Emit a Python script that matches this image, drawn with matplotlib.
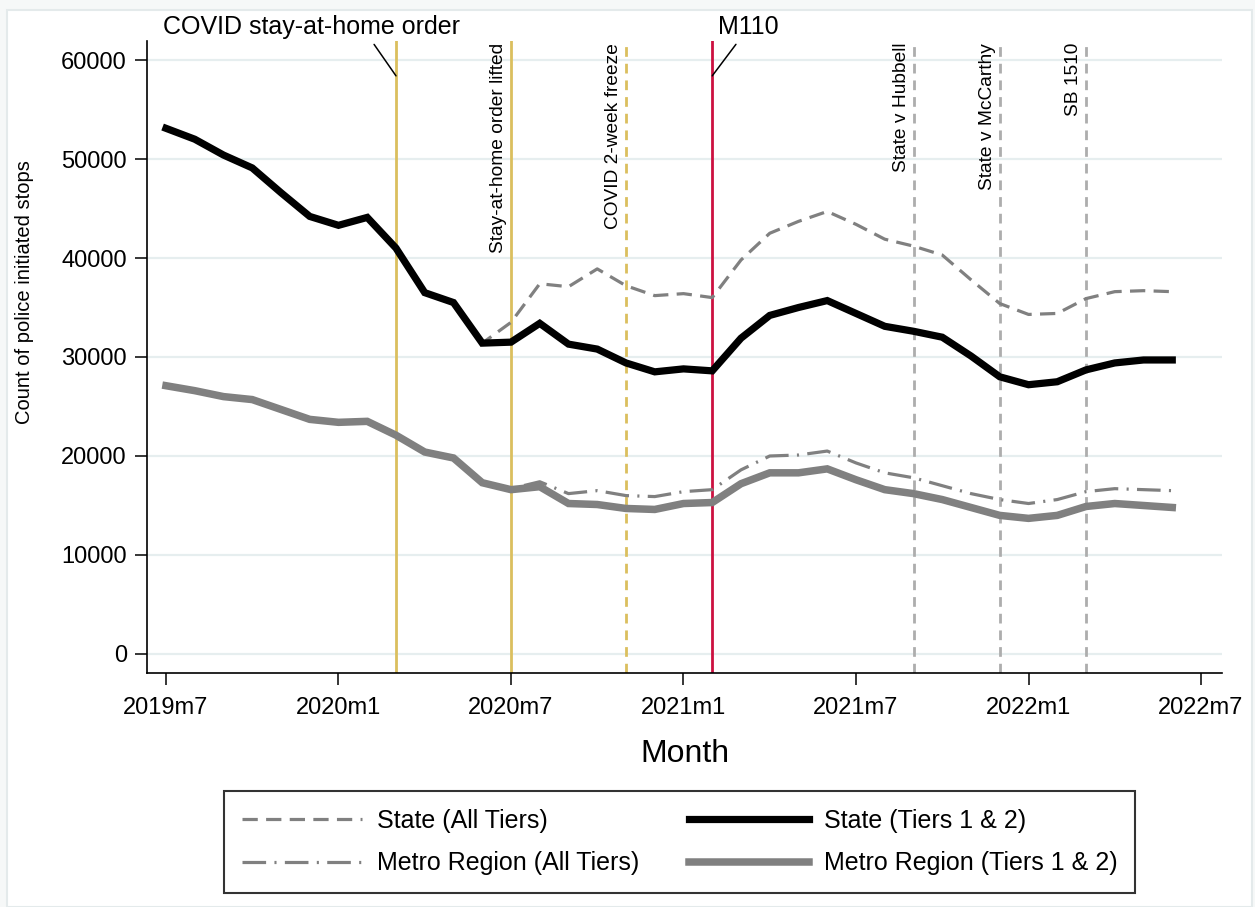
import numpy as np
import matplotlib.pyplot as plt
import matplotlib.patches as mpatches
import matplotlib.transforms as mtransforms

plt.rcParams["font.family"] = ["Liberation Sans", "DejaVu Sans"]
plt.rcParams["lines.scale_dashes"] = False

# monthly counts of police initiated stops, 2019m7 .. 2022m6
state_all = [53100, 52000, 50400, 49100, 46600, 44200, 43300, 44100, 41000, 36500,
             35500, 31400, 33500, 37400, 37100, 38900, 37200, 36200, 36400, 36000,
             39800, 42500, 43700, 44700, 43400, 41900, 41200, 40300, 37800, 35400,
             34300, 34400, 35900, 36600, 36700, 36600]
state_t12 = [53100, 52000, 50400, 49100, 46600, 44200, 43300, 44100, 41000, 36500,
             35500, 31400, 31500, 33400, 31300, 30800, 29400, 28500, 28800, 28600,
             31900, 34200, 35000, 35700, 34400, 33100, 32600, 32000, 30100, 28000,
             27200, 27500, 28700, 29400, 29700, 29700]
metro_all = [27100, 26600, 26000, 25700, 24700, 23700, 23400, 23500, 22100, 20400,
             19800, 17300, 16700, 17400, 16200, 16500, 16000, 15900, 16400, 16600,
             18600, 20000, 20100, 20500, 19300, 18300, 17800, 17000, 16200, 15600,
             15200, 15600, 16400, 16700, 16600, 16500]
metro_t12 = [27100, 26600, 26000, 25700, 24700, 23700, 23400, 23500, 22100, 20400,
             19800, 17300, 16600, 16900, 15200, 15100, 14700, 14600, 15200, 15300,
             17200, 18300, 18300, 18700, 17600, 16600, 16200, 15600, 14800, 14000,
             13700, 14000, 14900, 15200, 15000, 14800]

tick_months = [0, 6, 12, 18, 24, 30, 36]
tick_labels = ["2019m7", "2020m1", "2020m7", "2021m1", "2021m7", "2022m1", "2022m7"]
y_ticks = [0, 10000, 20000, 30000, 40000, 50000, 60000]

GOLD = "#dbbf5e"
RED = "#cc1040"
LGRAY = "#adadad"
GRAY = "#808080"

# policy events: (month index, label, colour, dashed?)
events = [
    (8,  "COVID stay-at-home order",  GOLD,  False),
    (12, "Stay-at-home order lifted", GOLD,  False),
    (16, "COVID 2-week freeze",       GOLD,  True),
    (19, "M110",                      RED,   False),
    (26, "State v Hubbell",           LGRAY, True),
    (29, "State v McCarthy",          LGRAY, True),
    (32, "SB 1510",                   LGRAY, True),
]
# these two get a horizontal label above the plot with a leader line
top_labels = {8: (5.05, 63300, 0.70), 19: (20.25, 63300, 0.36)}

months = np.arange(len(state_t12))

fig = plt.figure(figsize=(12.55, 9.07), dpi=100, facecolor="#f6f8f8")
fig.patches.append(mpatches.Rectangle((7 / 1255, 0), 1245 / 1255, 1 - 10 / 907,
                                      transform=fig.transFigure, facecolor="white",
                                      edgecolor="#e4eaeb", lw=1.5, zorder=-10))
ax = fig.add_axes([147 / 1255, 1 - 673 / 907, 1075 / 1255, 632 / 907])
ax.set_facecolor("white")

trans = mtransforms.blended_transform_factory(ax.transData, ax.transAxes)
for m, label, col, dashed in events:
    ln = ax.axvline(m, color=col, lw=2.0, zorder=1)
    if dashed:
        ln.set_dashes((7, 5))
    if m in top_labels:
        tx, ty, rp = top_labels[m]
        ax.annotate(label, xy=(m, 58400), xytext=(tx, ty), fontsize=18,
                    ha="center", va="center", annotation_clip=False,
                    arrowprops=dict(arrowstyle="-", lw=1.1, color="black",
                                    relpos=(rp, 0), shrinkA=2, shrinkB=0))
    else:
        ax.text(m - 0.13, 0.997, label, transform=trans, rotation=90,
                ha="right", va="top", fontsize=13.8)

l1, = ax.plot(months, state_all, color=GRAY, lw=2.3, zorder=3, label="State (All Tiers)")
l1.set_dashes((11, 6))
l2, = ax.plot(months, metro_all, color=GRAY, lw=2.3, zorder=3, label="Metro Region (All Tiers)")
l2.set_dashes((17, 6, 1.5, 6))
l3, = ax.plot(months, state_t12, color="black", lw=5.2, zorder=4,
              solid_joinstyle="miter", label="State (Tiers 1 & 2)")
l4, = ax.plot(months, metro_t12, color=GRAY, lw=5.4, zorder=4,
              solid_joinstyle="miter", label="Metro Region (Tiers 1 & 2)")

ax.set_xlim(-0.66, 36.73)
ax.set_ylim(-1920, 61920)
ax.set_xticks(tick_months)
ax.set_xticklabels(tick_labels)
ax.set_yticks(y_ticks)
ax.set_yticklabels([str(v) for v in y_ticks])
ax.tick_params(axis="both", labelsize=17, length=8.5, width=1.1, direction="out")
ax.tick_params(axis="x", pad=9)
ax.tick_params(axis="y", pad=6)
ax.yaxis.grid(True, color="#e6eeef", lw=1.6, zorder=0)
ax.set_axisbelow(True)
for s in ["top", "right"]:
    ax.spines[s].set_visible(False)
for s in ["left", "bottom"]:
    ax.spines[s].set_linewidth(1.2)

ax.set_xlabel("Month", fontsize=23, labelpad=14)
ax.set_ylabel("Count of police initiated stops", fontsize=14.5)
ax.yaxis.set_label_coords(-0.105, 0.603)

leg = fig.legend(handles=[l1, l2, l3, l4], loc="center", ncol=2,
                 bbox_to_anchor=(0.5414, 0.0717), fontsize=18, frameon=True,
                 fancybox=False, edgecolor="black", handlelength=4.8,
                 handletextpad=0.6, columnspacing=2.0, labelspacing=0.75,
                 borderpad=0.7)
leg.get_frame().set_linewidth(1.5)

fig.savefig("out.png", dpi=100, facecolor=fig.get_facecolor())
